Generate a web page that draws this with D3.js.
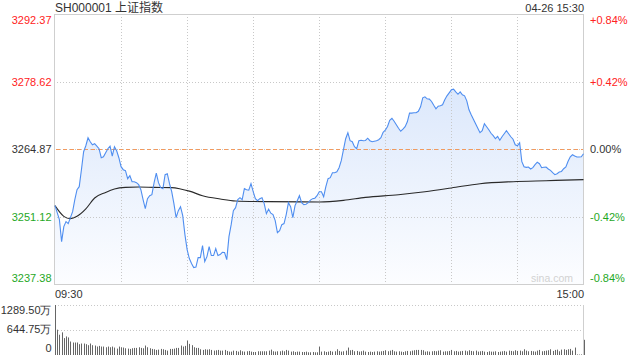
<!DOCTYPE html>
<html><head><meta charset="utf-8">
<script src="https://cdn.jsdelivr.net/npm/d3@7"></script>
<style>
html,body{margin:0;padding:0;background:#fff;}
svg{display:block;font-family:Arial,"Liberation Sans","Noto Sans CJK SC",sans-serif;}
</style></head><body>
<svg id="c" width="640" height="360"></svg>
<script>
const title = "SH000001 上证指数";
const stamp = "04-26 15:30";
const timeLabels = ["09:30", "15:00"];
const prevClose = 3264.87;
const priceTicks = [3237.38, 3251.12, 3264.87, 3278.62, 3292.37];
const pctLabels = ["-0.84%", "-0.42%", "0.00%", "+0.42%", "+0.84%"];
const volTicks = [0, 644.75, 1289.5];
const volLabels = ["0", "644.75万", "1289.50万"];
const gridMinutes = [30, 60, 90, 120, 150, 180, 210];

const prices = [
3253.34,3251.91,3250.49,3246.01,3249.07,3250.08,3249.68,3250.90,3252.12,3254.56,
3256.59,3257.20,3260.66,3264.32,3265.54,3267.17,3266.35,3265.74,3265.95,3265.44,
3264.93,3263.10,3263.30,3264.12,3264.93,3265.44,3263.41,3265.34,3264.52,3263.10,
3261.27,3260.66,3260.46,3258.83,3259.44,3258.22,3258.22,3258.02,3257.61,3256.59,
3254.56,3252.73,3254.76,3255.37,3255.57,3258.02,3259.95,3258.02,3257.00,3256.80,
3259.64,3259.85,3257.81,3256.18,3253.74,3250.90,3252.32,3253.13,3251.30,3247.44,
3244.39,3242.56,3241.54,3240.73,3240.83,3242.76,3242.76,3245.20,3241.95,3242.96,
3245.00,3243.17,3243.17,3244.59,3243.17,3243.37,3243.84,3243.78,3242.35,3247.03,
3249.47,3252.32,3252.93,3254.56,3254.96,3254.56,3256.80,3256.59,3256.49,3257.81,
3256.18,3254.76,3254.35,3254.76,3254.96,3253.74,3251.71,3252.63,3251.81,3251.51,
3250.29,3247.85,3248.25,3249.47,3249.68,3251.51,3253.95,3253.13,3250.90,3253.34,
3254.35,3255.37,3253.95,3253.54,3253.64,3253.95,3254.46,3254.76,3254.86,3255.37,
3256.18,
3256.18,3255.17,3257.20,3258.83,3259.03,3260.05,3260.05,3260.25,3261.07,3262.49,
3264.73,3266.97,3268.19,3266.56,3266.35,3265.34,3264.93,3266.56,3266.66,3266.56,
3266.62,3267.07,3266.56,3266.35,3266.46,3266.56,3266.76,3267.17,3268.29,3268.69,
3269.47,3270.73,3271.13,3270.52,3269.81,3269.10,3268.49,3268.90,3269.41,3270.42,
3272.19,3272.19,3272.25,3272.25,3272.56,3273.47,3275.30,3275.51,3275.10,3275.04,
3274.55,3273.78,3273.07,3273.58,3273.68,3273.88,3274.90,3275.71,3276.32,3276.93,
3277.07,3276.52,3276.02,3276.52,3275.91,3275.71,3274.69,3272.86,3271.85,3270.93,
3270.02,3269.10,3268.19,3268.59,3270.02,3269.41,3268.80,3268.08,3267.58,3266.97,
3267.43,3266.66,3267.37,3267.98,3268.59,3267.98,3267.37,3266.86,3265.74,3265.54,
3266.15,3262.29,3261.27,3261.13,3261.21,3260.80,3261.07,3261.68,3262.19,3261.88,
3261.07,3261.17,3261.21,3260.80,3260.52,3260.05,3259.64,3259.85,3260.19,3260.31,
3260.86,3261.21,3262.39,3263.30,3263.71,3263.45,3263.24,3263.24,3263.30,3263.91
];

const avgMinutes = [0,4,7,10,14,18,23,27,32,38,45,53,57,61,67,75,82,97,120,131,141,156,168,180,193,208,223,240];
const avgPrices = [3253.34,3251.16,3250.69,3251.16,3252.67,3254.90,3256.04,3256.73,3257.06,3257.14,3257.06,3257.00,3256.73,3256.29,3255.37,3254.70,3254.29,3254.15,3254.09,3254.42,3255.03,3255.57,3256.18,3256.94,3257.81,3258.22,3258.42,3258.63];

const volumes = [
1289.5,653,523,584,436,479,453,348,322,322,
322,279,296,296,279,253,296,253,244,218,
235,218,218,200,218,200,218,192,165,218,
200,192,174,165,157,174,183,183,200,183,
174,244,200,174,157,148,131,139,157,148,
131,113,157,157,165,183,183,244,218,235,
375,287,253,200,183,183,148,131,148,139,
148,131,113,122,131,113,113,131,105,87,
87,113,105,87,122,96,87,96,105,87,
78,78,96,96,96,96,96,113,139,96,
87,96,96,113,96,131,113,87,96,78,
87,87,78,78,87,70,70,78,70,70,
218,87,96,78,87,105,87,96,148,105,
87,96,113,192,122,131,96,105,87,96,
113,87,78,87,78,87,96,87,96,105,
122,96,113,131,96,87,96,87,78,96,
105,96,113,122,131,131,131,122,87,96,
87,96,105,96,113,122,87,96,96,105,
131,96,105,87,96,105,113,96,122,105,
96,113,87,96,105,87,78,96,87,87,
96,78,87,96,105,87,113,105,96,122,
105,113,96,148,113,96,105,96,87,113,
131,96,105,113,122,148,105,131,139,96,
139,148,131,148,157,113,192,15,12,15,
392
];

const svg = d3.select("#c");
const L = 54, R = 584, T = 14, B = 284, VT = 305, VB = 355;
const red = "#f22", green = "#1fa81f", dark = "#333";

const x = d3.scaleLinear().domain([0, 240]).range([55, 583.5]);
const y = d3.scaleLinear().domain([priceTicks[0], priceTicks[4]]).range([B, T]);
const vy = d3.scaleLinear().domain([0, volTicks[2]]).range([VB, VT]);

const defs = svg.append("defs");
const g = defs.append("linearGradient").attr("id", "fillg")
  .attr("gradientUnits", "userSpaceOnUse").attr("x1", 0).attr("y1", T).attr("x2", 0).attr("y2", B);
g.append("stop").attr("offset", 0).attr("stop-color", "rgb(208,224,250)");
g.append("stop").attr("offset", 1).attr("stop-color", "rgb(252,253,255)");

// area
svg.append("path").datum(prices)
  .attr("fill", "url(#fillg)")
  .attr("d", d3.area().x((d, i) => x(i)).y0(B).y1(d => y(d)));

// grid
const grid = svg.append("g").attr("stroke", "#c8c8c8").attr("stroke-dasharray", "1,2").attr("fill", "none");
[priceTicks[1], priceTicks[3]].forEach(v => {
  const yy = Math.round(y(v)) + 0.5;
  grid.append("line").attr("x1", L).attr("x2", R).attr("y1", yy).attr("y2", yy);
});
gridMinutes.forEach(m => {
  const xx = Math.round(x(m)) + 0.5;
  grid.append("line").attr("x1", xx).attr("x2", xx).attr("y1", T).attr("y2", B);
});
// prev close dashed
const pcY = Math.round(y(prevClose)) + 0.5;
svg.append("line").attr("x1", L).attr("x2", R).attr("y1", pcY).attr("y2", pcY)
  .attr("stroke", "#c8c8c8").attr("stroke-dasharray", "1,2");
svg.append("line").attr("x1", L + 2).attr("x2", R).attr("y1", pcY).attr("y2", pcY)
  .attr("stroke", "#f29a5e").attr("stroke-dasharray", "4,3");

// border
svg.append("rect").attr("x", L + 0.5).attr("y", T + 0.5).attr("width", R - L - 1).attr("height", B - T)
  .attr("fill", "none").attr("stroke", "#cfcfcf");

// avg line
svg.append("path").datum(avgPrices)
  .attr("fill", "none").attr("stroke", "#2a2a2a").attr("stroke-width", 1.1)
  .attr("d", d3.line().x((d, i) => x(avgMinutes[i])).y(d => y(d)).curve(d3.curveMonotoneX));

// price line
svg.append("path").datum(prices)
  .attr("fill", "none").attr("stroke", "#4f8ef0").attr("stroke-width", 1.1)
  .attr("d", d3.line().x((d, i) => x(i)).y(d => y(d)));

// watermark
svg.append("text").attr("x", 573).attr("y", 282).attr("text-anchor", "end")
  .attr("font-size", 10.5).attr("fill", "#d2d2d2").text("sina.com");

// left axis
const la = svg.append("g").attr("transform", `translate(${L},0)`)
  .call(d3.axisLeft(y).tickValues(priceTicks).tickSize(0).tickPadding(2.5).tickFormat(d3.format(".2f")));
la.select(".domain").remove();
la.selectAll("text").attr("font-size", 11).attr("font-family", null)
  .attr("fill", d => d > prevClose + 0.001 ? red : d < prevClose - 0.001 ? green : dark)
  .attr("y", (d, i) => i === 4 ? 6 : i === 0 ? -6.5 : 0);

// right axis
const ra = svg.append("g").attr("transform", `translate(${R},0)`)
  .call(d3.axisRight(y).tickValues(priceTicks).tickSize(0).tickPadding(6).tickFormat((d, i) => pctLabels[i]));
ra.select(".domain").remove();
ra.selectAll("text").attr("font-size", 11).attr("font-family", null)
  .attr("fill", d => d > prevClose + 0.001 ? red : d < prevClose - 0.001 ? green : dark)
  .attr("y", (d, i) => i === 4 ? 6 : i === 0 ? -6.5 : 0);

// title and stamp
svg.append("text").attr("x", 55).attr("y", 12).attr("font-size", 12).attr("fill", dark).text(title);
svg.append("text").attr("x", 584).attr("y", 11.5).attr("text-anchor", "end").attr("font-size", 11).attr("fill", dark).text(stamp);

// time labels
svg.append("text").attr("x", x(0)).attr("y", 297.5).attr("font-size", 11).attr("fill", dark).text(timeLabels[0]);
svg.append("text").attr("x", R).attr("y", 297.5).attr("text-anchor", "end").attr("font-size", 11).attr("fill", dark).text(timeLabels[1]);

// volume grid
const vg = svg.append("g").attr("stroke", "#c8c8c8").attr("stroke-dasharray", "1,2");
volTicks.slice(1).forEach(v => {
  const yy = Math.round(vy(v)) + 0.5;
  vg.append("line").attr("x1", 55).attr("x2", R).attr("y1", yy).attr("y2", yy);
});
svg.append("line").attr("x1", R - 0.5).attr("x2", R - 0.5).attr("y1", VT).attr("y2", VB).attr("stroke", "#cfcfcf");

// volume bars
svg.append("g").selectAll("rect").data(volumes).join("rect")
  .attr("x", (d, i) => Math.round(x(i)))
  .attr("width", 1)
  .attr("y", d => vy(d))
  .attr("height", d => VB - vy(d))
  .attr("fill", "#666");

// volume axis
const va = svg.append("g").attr("transform", `translate(${L},0)`)
  .call(d3.axisLeft(vy).tickValues(volTicks).tickSize(0).tickPadding(2.5).tickFormat((d, i) => volLabels[i]));
va.select(".domain").remove();
va.selectAll("text").attr("font-size", 11).attr("font-family", null).attr("fill", dark)
  .attr("y", (d, i) => i === 2 ? 5 : i === 0 ? -7 : -1);
</script>
</body></html>
